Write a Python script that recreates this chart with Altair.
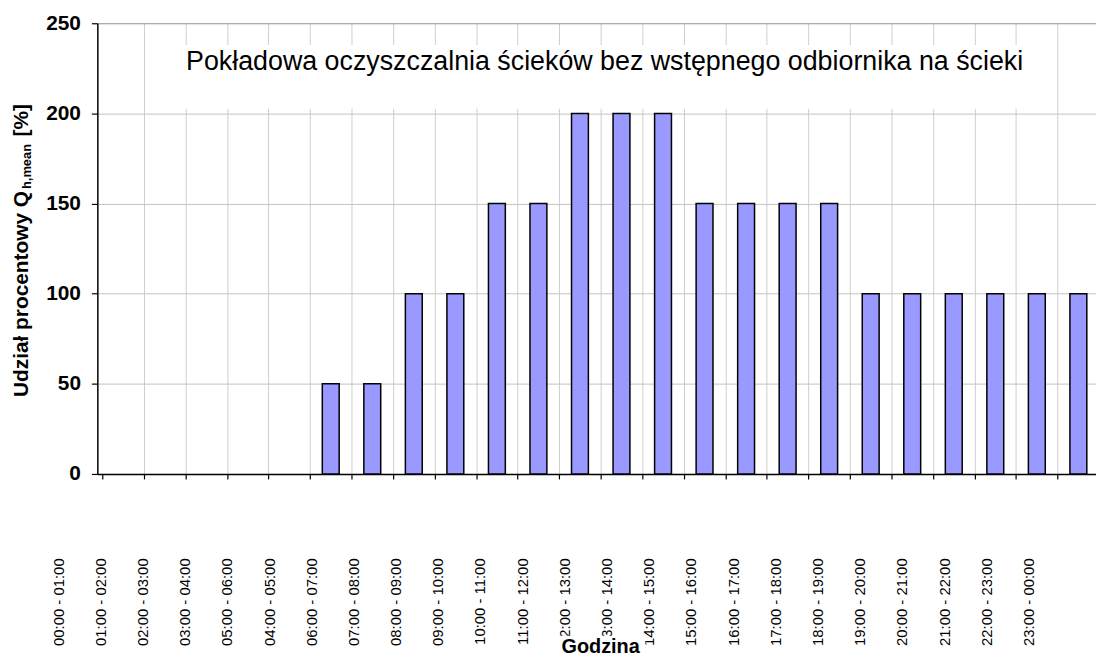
import altair as alt
import pandas as pd

# ---- data ----
hour_labels = [
    "00:00 - 01:00", "01:00 - 02:00", "02:00 - 03:00", "03:00 - 04:00",
    "05:00 - 06:00", "04:00 - 05:00", "06:00 - 07:00", "07:00 - 08:00",
    "08:00 - 09:00", "09:00 - 10:00", "10:00 - 11:00", "11:00 - 12:00",
    "12:00 - 13:00", "13:00 - 14:00", "14:00 - 15:00", "15:00 - 16:00",
    "16:00 - 17:00", "17:00 - 18:00", "18:00 - 19:00", "19:00 - 20:00",
    "20:00 - 21:00", "21:00 - 22:00", "22:00 - 23:00", "23:00 - 00:00",
]
share_values = [0, 0, 0, 0, 0, 50, 50, 100, 100, 150, 150, 200,
                200, 200, 150, 150, 150, 150, 100, 100, 100, 100, 100, 100]
y_ticks = [0, 50, 100, 150, 200, 250]
x_ticks = list(range(24))

chart_title = "Pokładowa oczyszczalnia ścieków bez wstępnego odbiornika na ścieki"
x_title = "Godzina"
y_title_main = "Udział procentowy Q"
y_title_sub = "h,mean"
y_title_end = "[%]"

FONT = "Liberation Sans"
W, H = 1006, 454

df = pd.DataFrame({"idx": list(range(len(hour_labels))),
                   "label": hour_labels,
                   "value": share_values})

xscale = alt.Scale(domain=[0, 23.805], nice=False, zero=False)

bars = (
    alt.Chart(df)
    .transform_filter("datum.value > 0")
    .transform_calculate(center="datum.idx + 0.5")
    .mark_bar(size=17, fill="#9999FF", stroke="black", strokeWidth=1.5)
    .encode(
        x=alt.X("center:Q", scale=xscale,
                axis=alt.Axis(values=x_ticks, labels=False, title=None,
                              grid=True,
                              gridColor={"condition": {"test": "datum.value === 0", "value": "transparent"},
                                         "value": "#cfcfcf"},
                              gridWidth=1,
                              domainColor="black", domainWidth=1.5,
                              tickColor="black", tickSize=5, tickWidth=1.2)),
        y=alt.Y("value:Q", scale=alt.Scale(domain=[0, 250], nice=False),
                axis=alt.Axis(values=y_ticks, title=None, grid=True,
                              gridColor={"condition": {"test": "datum.value === 250", "value": "#8f8f8f"},
                                         "value": "#c4c4c4"},
                              gridWidth=1,
                              domainColor="black", domainWidth=1.5,
                              tickColor="black", tickSize=6, tickWidth=1.2,
                              labelFont=FONT, labelFontSize=21, labelFontWeight="bold",
                              labelColor="black", labelPadding=11)),
    )
)

one = pd.DataFrame({"k": [0]})

title_box = alt.Chart(one).mark_rect(fill="white").encode(
    x=alt.value(67), x2=alt.value(947), y=alt.value(22), y2=alt.value(86))

title_text = alt.Chart(pd.DataFrame({"t": [chart_title]})).mark_text(
    font=FONT, fontSize=27, color="black", align="center", baseline="alphabetic"
).encode(x=alt.value(511), y=alt.value(47), text="t:N")

# rotated category labels (own scale: Excel placed them shifted to the left)
xlabels = alt.Chart(df).mark_text(
    font=FONT, fontSize=15, color="black", angle=270, align="right", baseline="middle"
).encode(
    x=alt.X("idx:Q", scale=alt.Scale(domain=[0.918, 24.59], nice=False, zero=False), axis=None),
    y=alt.value(539),
    text="label:N",
)

godz_box = alt.Chart(one).mark_rect(fill="white").encode(
    x=alt.value(462), x2=alt.value(552), y=alt.value(617), y2=alt.value(640))

godz = alt.Chart(pd.DataFrame({"t": [x_title]})).mark_text(
    font=FONT, fontSize=20, fontWeight="bold", color="black", align="center", baseline="alphabetic"
).encode(x=alt.value(507), y=alt.value(634), text="t:N")

yt_main = alt.Chart(pd.DataFrame({"t": [y_title_main]})).mark_text(
    font=FONT, fontSize=21, fontWeight="bold", color="black", angle=270, align="right", baseline="alphabetic"
).encode(x=alt.value(-70), y=alt.value(169), text="t:N")

yt_sub = alt.Chart(pd.DataFrame({"t": [y_title_sub]})).mark_text(
    font=FONT, fontSize=13, fontWeight="bold", color="black", angle=270, align="left", baseline="alphabetic"
).encode(x=alt.value(-67), y=alt.value(167), text="t:N")

yt_end = alt.Chart(pd.DataFrame({"t": [y_title_end]})).mark_text(
    font=FONT, fontSize=21, fontWeight="bold", color="black", angle=270, align="left", baseline="alphabetic"
).encode(x=alt.value(-70), y=alt.value(114), text="t:N")

chart = (
    alt.layer(bars, title_box, title_text, xlabels, godz_box, godz, yt_main, yt_sub, yt_end)
    .resolve_scale(x="independent")
    .properties(width=W, height=H,
                autosize=alt.AutoSizeParams(type="none"),
                padding={"left": 90, "top": 13, "right": 0, "bottom": 180},
                background="white")
    .configure_view(stroke=None)
)

chart.save("out.html", embed_options={"renderer": "svg", "actions": False})
